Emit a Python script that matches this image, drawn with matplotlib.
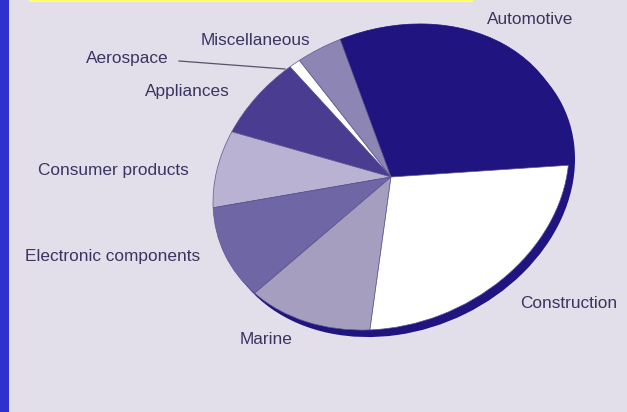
import matplotlib
matplotlib.use('Agg')
import matplotlib.pyplot as plt
from matplotlib.transforms import Affine2D

plt.rcParams['font.family'] = ['Liberation Sans', 'DejaVu Sans']

# share of use, going anticlockwise from the right hand side
sectors = ['Automotive', 'Miscellaneous', 'Aerospace', 'Appliances',
           'Consumer products', 'Electronic components', 'Marine', 'Construction']
shares = [31, 4, 1, 8, 8, 10.5, 12, 25.5]
colors = ['#1f1480', '#8d85b3', '#ffffff', '#4a3d91',
          '#b9b2d2', '#6e66a5', '#a69ebf', '#ffffff']

W, H = 627, 412
PAPER = '#e2dfea'
NAVY = '#1f1480'
INK = '#3a3560'

fig = plt.figure(figsize=(W / 100, H / 100), dpi=100, facecolor=PAPER)

# page furniture and labels are placed in pixels
page = fig.add_axes([0, 0, 1, 1])
page.set_xlim(0, W)
page.set_ylim(H, 0)
page.axis('off')
page.axvspan(0, 9, color='#3030d0', lw=0)
page.fill_between([29, 473], 0, 2, color='#ffff66', lw=0)

label_pos = {
    'Automotive': (487, 19),
    'Miscellaneous': (201, 40),
    'Aerospace': (86, 58),
    'Appliances': (145, 91),
    'Consumer products': (38, 170),
    'Electronic components': (25, 257),
    'Marine': (240, 340),
    'Construction': (520, 304),
}
for name in sectors:
    x, y = label_pos[name]
    page.text(x, y, name, color=INK, fontsize=12.4, ha='left', va='center')

page.plot([179, 285], [61, 69], color='#55516f', lw=0.9)

# the disc is photographed at a slant, so the unit pie gets sheared onto the page
ax = fig.add_axes([0, 0, 1, 1])
ax.patch.set_alpha(0)


def slant(cx, cy):
    return Affine2D.from_values(178, 25, 0, 151, cx, H - cy) + ax.transData


# solid disc slightly below the slices gives the raised edge
base, _ = ax.pie([1], colors=[NAVY], wedgeprops={'linewidth': 0})
top, _ = ax.pie(shares, colors=colors, startangle=-5,
                wedgeprops={'linewidth': 0.5, 'edgecolor': '#5d5690'})
top[0].set_edgecolor(NAVY)

ax.set_aspect('auto')
ax.set_xlim(0, W)
ax.set_ylim(0, H)
for w in base:
    w.set_transform(slant(397, 184))
for w in top:
    w.set_transform(slant(391, 177))

fig.savefig('out.png', dpi=100, facecolor=fig.get_facecolor())
